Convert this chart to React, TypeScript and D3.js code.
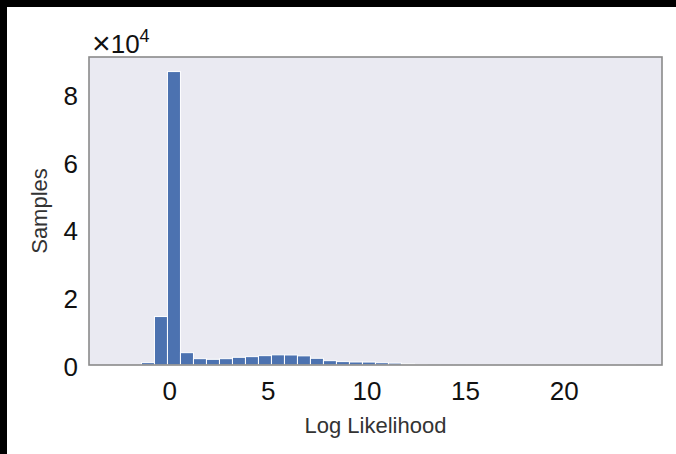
import React, { useEffect, useRef } from "react";
import * as d3 from "d3";

// histogram of log likelihood, bin edges start at -1.43, width 0.659
const binStart = -1.43;
const binWidth = 0.659;
const counts = [
  700, 14300, 86600, 3640, 1870, 1680, 1870, 2270, 2470, 2760, 3000, 2960, 2700,
  1980, 1280, 1000, 890, 870, 680, 560, 300, 150, 70, 40, 25, 15, 10, 8, 6, 5,
  4, 3, 3, 2, 2, 1, 1, 1,
];
const xTicks = [0, 5, 10, 15, 20];
const yTicks = [0, 2, 4, 6, 8];

const W = 676;
const H = 454;
const margin = { left: 89, top: 57, right: 662, bottom: 365 };

const App = () => {
  const ref = useRef<SVGSVGElement>(null);

  useEffect(() => {
    const svg = d3.select(ref.current);
    svg.selectAll("*").remove();

    svg.append("rect").attr("width", W).attr("height", H).attr("fill", "#000");
    svg.append("rect").attr("x", 7).attr("y", 7).attr("width", W - 7).attr("height", H - 7).attr("fill", "#fff");

    const x = d3.scaleLinear().domain([-4.09, 24.96]).range([margin.left, margin.right]);
    const y = d3.scaleLinear().domain([0, 9.09]).range([margin.bottom, margin.top]);

    svg
      .append("rect")
      .attr("x", margin.left)
      .attr("y", margin.top)
      .attr("width", margin.right - margin.left)
      .attr("height", margin.bottom - margin.top)
      .attr("fill", "#eaeaf2");

    const bins = counts.map((c, i) => ({
      x0: binStart + i * binWidth,
      x1: binStart + (i + 1) * binWidth,
      v: c / 1e4,
    }));

    svg
      .append("g")
      .selectAll("rect")
      .data(bins)
      .enter()
      .append("rect")
      .attr("x", (d) => x(d.x0))
      .attr("width", (d) => x(d.x1) - x(d.x0))
      .attr("y", (d) => y(d.v))
      .attr("height", (d) => y(0) - y(d.v))
      .attr("fill", "#4c72b0")
      .attr("stroke", "#fff")
      .attr("stroke-width", 1);

    svg
      .append("rect")
      .attr("x", margin.left)
      .attr("y", margin.top)
      .attr("width", margin.right - margin.left)
      .attr("height", margin.bottom - margin.top)
      .attr("fill", "none")
      .attr("stroke", "#8a8a8a")
      .attr("stroke-width", 1.6);

    const font = "'Liberation Sans', Arial, sans-serif";

    svg
      .append("g")
      .selectAll("text")
      .data(xTicks)
      .enter()
      .append("text")
      .attr("x", (d) => x(d))
      .attr("y", 400)
      .attr("text-anchor", "middle")
      .attr("font-family", font)
      .attr("font-size", 26)
      .attr("fill", "#111")
      .text((d) => d);

    svg
      .append("g")
      .selectAll("text")
      .data(yTicks)
      .enter()
      .append("text")
      .attr("x", 78)
      .attr("y", (d) => y(d) + 11)
      .attr("text-anchor", "end")
      .attr("font-family", font)
      .attr("font-size", 26)
      .attr("fill", "#111")
      .text((d) => d);

    const exp = svg
      .append("text")
      .attr("x", 92)
      .attr("y", 53)
      .attr("font-family", font)
      .attr("font-size", 26)
      .attr("fill", "#111");
    exp.append("tspan").attr("font-size", 32).attr("dy", 1).text("×");
    exp.append("tspan").attr("dy", -1).text("10");
    exp.append("tspan").attr("font-size", 18).attr("dy", -11).text("4");

    svg
      .append("text")
      .attr("x", (margin.left + margin.right) / 2)
      .attr("y", 433)
      .attr("text-anchor", "middle")
      .attr("font-family", font)
      .attr("font-size", 22)
      .attr("fill", "#333")
      .text("Log Likelihood");

    svg
      .append("text")
      .attr("transform", `translate(47, ${(margin.top + margin.bottom) / 2}) rotate(-90)`)
      .attr("text-anchor", "middle")
      .attr("font-family", font)
      .attr("font-size", 22)
      .attr("fill", "#333")
      .text("Samples");
  }, []);

  return (
    <svg
      ref={ref}
      width={W}
      height={H}
      style={{ position: "absolute", left: 0, top: 0 }}
    ></svg>
  );
};

export default App;
